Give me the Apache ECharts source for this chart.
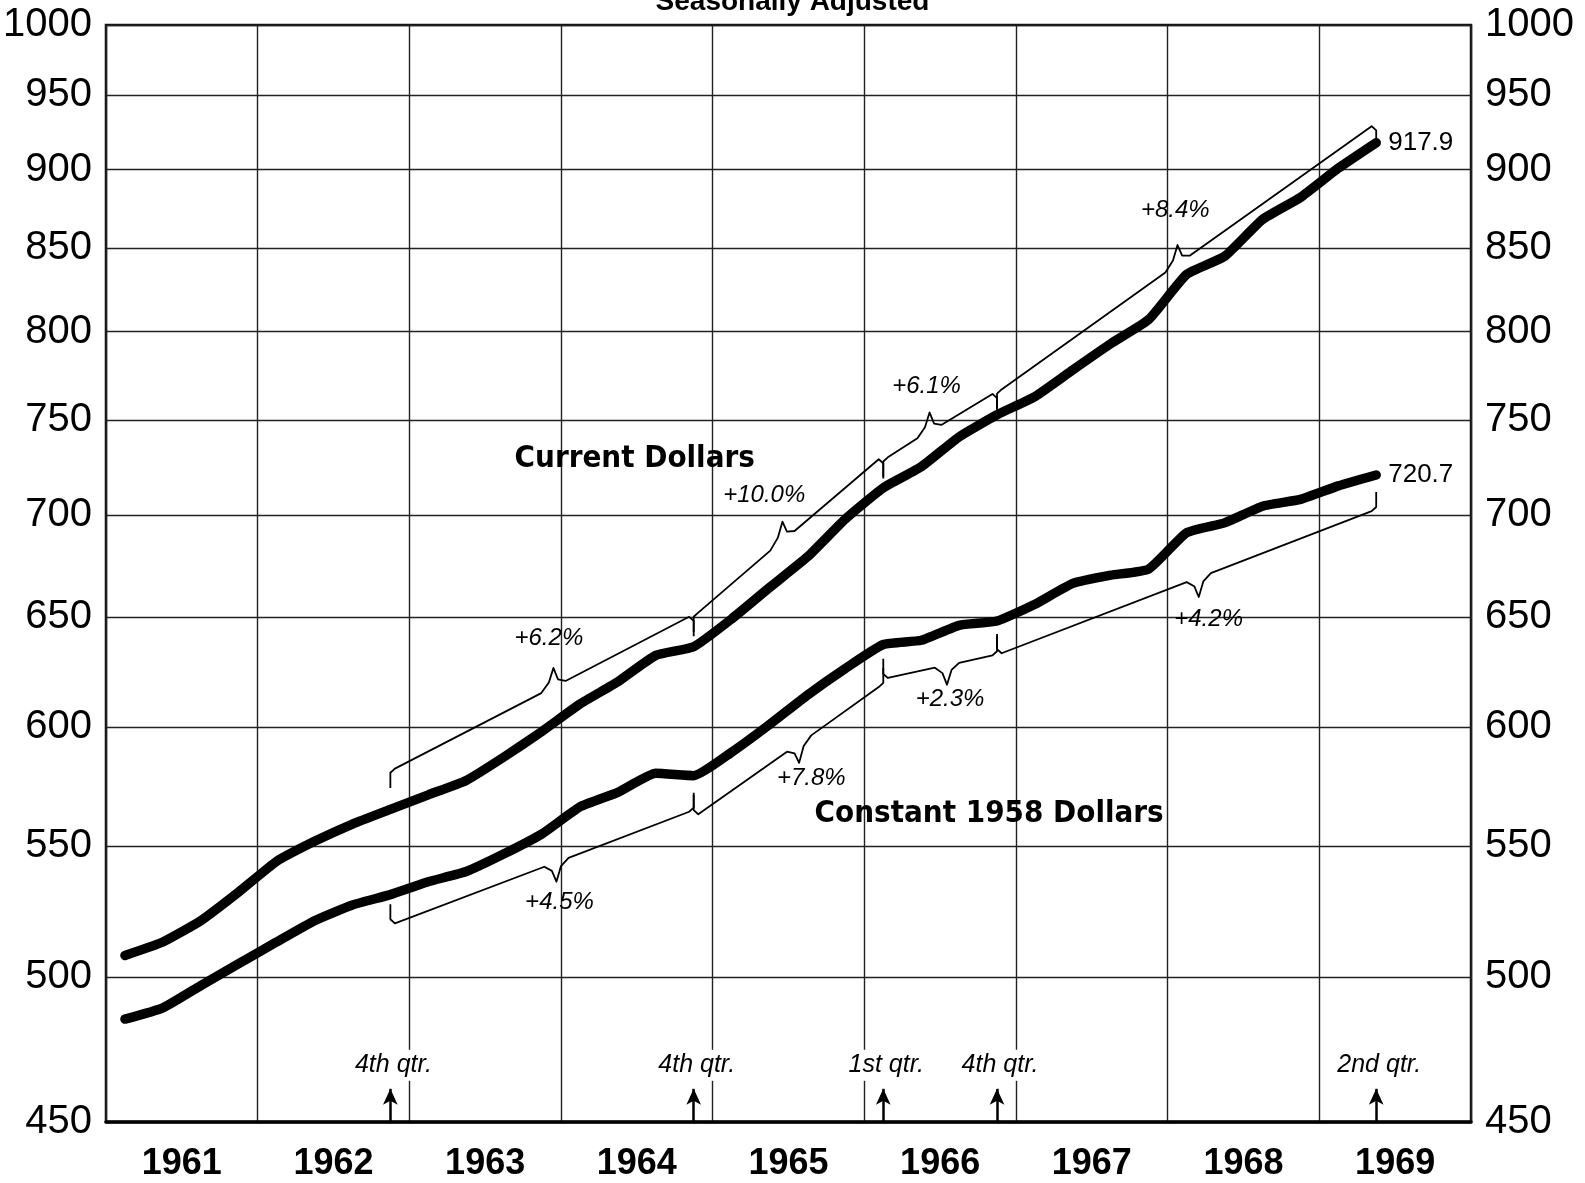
<!DOCTYPE html>
<html>
<head>
<meta charset="utf-8">
<title>GNP 1961-1969</title>
<script src="https://cdn.jsdelivr.net/npm/echarts@6/dist/echarts.min.js"></script>
<style>
html, body { margin: 0; padding: 0; background: #fff; }
#chart { width: 1585px; height: 1183px; }
</style>
</head>
<body>
<div id="chart"></div>
<script>
// years, one grid cell each
var years = ['1961', '1962', '1963', '1964', '1965', '1966', '1967', '1968', '1969']

// quarterly values, 1961 Q1 .. 1969 Q2 (billions, seasonally adjusted)
var currentDollars = [508, 513, 521, 532, 544, 552, 559, 565, 571, 577, 587, 598,
    610, 620, 632, 636, 649, 664, 679, 698, 714, 725, 741, 753,
    763, 778, 793, 807, 834, 845, 868, 882, 901, 917.9]
var constantDollars = [485, 489, 497, 505, 513, 521, 527, 531, 536, 540, 547, 555,
    566, 572, 580, 579, 589, 601, 614, 626, 637, 639, 646, 648,
    656, 666, 670, 673, 691, 696, 704.5, 708, 715, 720.7]

// y axis ticks (log scale)
var yTicks = [450, 500, 550, 600, 650, 700, 750, 800, 850, 900, 950, 1000]

// growth brackets
var bracketText = ['+6.2%', '+10.0%', '+6.1%', '+8.4%', '+4.5%', '+7.8%', '+2.3%', '+4.2%']
var bracketFrom = [1962.875, 1964.875, 1966.125, 1966.875, 1962.875, 1964.875, 1966.125, 1966.875]
var bracketTo = [1964.875, 1966.125, 1966.875, 1969.375, 1964.875, 1966.125, 1966.875, 1969.375]
var bracketStartVal = [582, 652, 730, 767, 520, 563, 621.7, 633]
var bracketEndVal = [650, 729, 764.5, 929, 564, 617.6, 632, 702]
var bracketNotch = [1963.95, 1965.46, 1966.43, 1968.065, 1963.97, 1965.57, 1966.545, 1968.205]
var bracketSide = [1, 1, 1, 1, -1, -1, -1, -1]
var bracketLabelX = [1963.92, 1965.34, 1966.41, 1968.05, 1963.99, 1965.65, 1966.565, 1968.27]
var bracketLabelY = [640, 710, 768.5, 874, 528, 578, 612, 649]

// quarter markers on the bottom axis
var quarterText = ['4th qtr.', '4th qtr.', '1st qtr.', '4th qtr.', '2nd qtr.']
var quarterAt = [1962.875, 1964.875, 1966.125, 1966.875, 1969.375]

var eChart = echarts.init(document.getElementById('chart'))

function qx(i) {
    return 1961 + (i + 0.5) / 4
}

// brace: tick, slope, notch, slope, tick
function bracketLine(i) {
    var x0 = bracketFrom[i], x1 = bracketTo[i]
    var v0 = bracketStartVal[i], v1 = bracketEndVal[i]
    var l0 = Math.log(v0), l1 = Math.log(v1)
    var s = bracketSide[i]
    var m = bracketNotch[i]
    var at = function (x) { return Math.exp(l0 + (x - x0) / (x1 - x0) * (l1 - l0)) }
    return [
        [x0, v0 * (1 - s * 0.014)],
        [x0, v0 * (1 - s * 0.003)],
        [x0 + 0.03, v0],
        [m - 0.08, at(m - 0.08)],
        [m - 0.03, at(m - 0.03) * (1 + s * 0.005)],
        [m, at(m) * (1 + s * 0.014)],
        [m + 0.03, at(m + 0.03) * (1 + s * 0.004)],
        [m + 0.08, at(m + 0.08)],
        [x1 - 0.03, v1],
        [x1, v1 * (1 - s * 0.003)],
        [x1, v1 * (1 - s * 0.014)]
    ]
}

var font = 'Liberation Sans'

var mainLine = function (name, values) {
    return {
        name: name,
        type: 'line',
        xAxisIndex: 1,
        data: values.map(function (v, i) { return [qx(i), v] }),
        showSymbol: false,
        smooth: 0.15,
        z: 5,
        lineStyle: { color: '#000', width: 9.5, cap: 'round', join: 'round' },
        endLabel: {
            show: true,
            distance: 12,
            formatter: function (p) { return String(p.value[1]) },
            fontFamily: font,
            fontSize: 26,
            color: '#000'
        }
    }
}

var series = [
    mainLine('Current Dollars', currentDollars),
    mainLine('Constant 1958 Dollars', constantDollars)
]

// thin bracket lines
bracketText.forEach(function (t, i) {
    series.push({
        type: 'line',
        xAxisIndex: 1,
        data: bracketLine(i),
        showSymbol: false,
        silent: true,
        z: 4,
        lineStyle: { color: '#000', width: 1.8, join: 'round' }
    })
})

// text notes
var notes = []
bracketText.forEach(function (t, i) {
    notes.push({ name: t, value: [bracketLabelX[i], bracketLabelY[i]] })
})
var bigLabel = {
    fontFamily: "'DejaVu Sans Condensed', 'Liberation Sans'",
    fontWeight: 'bold', fontSize: 31, fontStyle: 'normal', color: '#000'
}
notes.push({ name: 'Current Dollars', value: [1964.486, 729], label: bigLabel })
notes.push({ name: 'Constant 1958 Dollars', value: [1966.823, 563], label: bigLabel })
quarterText.forEach(function (t, i) {
    notes.push({
        name: t,
        value: [quarterAt[i] + 0.02, 469],
        label: { fontSize: 25, backgroundColor: '#fff', padding: [3, 4] }
    })
})

series.push({
    type: 'scatter',
    xAxisIndex: 1,
    symbolSize: 0,
    silent: true,
    z: 6,
    itemStyle: { opacity: 1 },
    data: notes,
    label: {
        show: true,
        position: 'inside',
        formatter: '{b}',
        fontFamily: font,
        fontStyle: 'italic',
        fontSize: 24,
        color: '#000',
        opacity: 1
    },
    markLine: {
        silent: true,
        symbol: ['none', 'arrow'],
        symbolSize: [11, 16],
        label: { show: false },
        lineStyle: { color: '#000', width: 2.5, type: 'solid', opacity: 1 },
        data: quarterAt.map(function (x) {
            return [{ coord: [x, 450] }, { coord: [x, 461] }]
        })
    }
})

var yLabel = function (margin) {
    return {
        customValues: yTicks,
        margin: margin,
        fontFamily: font,
        fontSize: 40,
        color: '#000',
        formatter: function (v) { return String(Math.round(v)) }
    }
}

var option = {
    backgroundColor: '#fff',
    animation: false,
    title: {
        text: 'Seasonally Adjusted',
        left: 'center',
        top: -17,
        textStyle: { fontFamily: font, fontSize: 28, fontWeight: 'bold', color: '#000' }
    },
    grid: {
        left: 101, right: 114, top: 25, bottom: 61,
        show: true,
        borderColor: '#111',
        borderWidth: 2.5
    },
    xAxis: [{
        type: 'category',
        data: years,
        boundaryGap: true,
        axisLine: { show: true, lineStyle: { color: '#000', width: 3.5 } },
        axisTick: { show: false, interval: 0 },
        axisLabel: { interval: 0, margin: 24, fontFamily: font, fontSize: 36, fontWeight: 'bold', color: '#000' },
        splitLine: { show: true, interval: 0, lineStyle: { color: '#222', width: 1.4 } }
    }, {
        type: 'value',
        min: 1961,
        max: 1970,
        show: false
    }],
    yAxis: [{
        type: 'log',
        logBase: 10,
        min: 450,
        max: 1000,
        axisLine: { show: false },
        axisTick: { show: false, customValues: yTicks },
        axisLabel: yLabel(14),
        splitLine: { show: true, lineStyle: { color: '#222', width: 1.4 } }
    }, {
        type: 'log',
        logBase: 10,
        min: 450,
        max: 1000,
        position: 'right',
        axisLine: { show: false },
        axisTick: { show: false, customValues: yTicks },
        axisLabel: yLabel(14),
        splitLine: { show: false }
    }],
    series: series
}

eChart.setOption(option)
</script>
</body>
</html>
